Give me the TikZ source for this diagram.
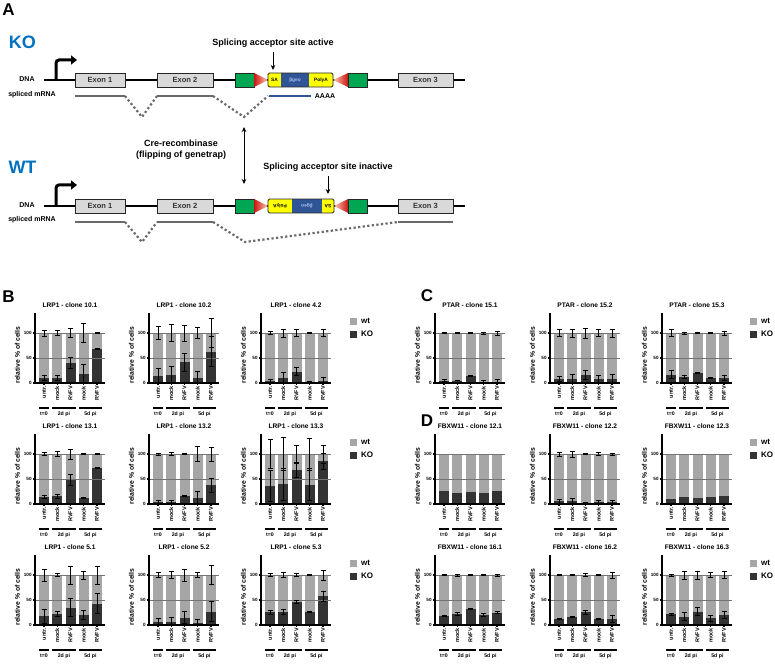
\documentclass[tikz,border=0pt]{standalone}
\usepackage{fontspec}
\setmainfont{Liberation Sans}
\usetikzlibrary{arrows.meta}

\definecolor{exongray}{RGB}{217,217,217}
\definecolor{frtgreen}{RGB}{0,166,81}
\definecolor{trapyellow}{RGB}{255,255,0}
\definecolor{geoblue}{RGB}{47,85,151}
\definecolor{geotext}{RGB}{170,190,230}
\definecolor{kolabel}{RGB}{0,112,192}
\definecolor{mrnagray}{RGB}{105,105,105}
\definecolor{wtgray}{RGB}{166,166,166}
\definecolor{kogray}{RGB}{51,51,51}
\definecolor{loxred}{RGB}{205,20,20}
\definecolor{loxpeach}{RGB}{252,205,175}

\newcommand{\fsz}[1]{\fontsize{#1}{#1}\selectfont}

\tikzset{
  panel/.style = {font=\fsz{17}\bfseries, inner sep=0pt},
  allele/.style = {font=\fsz{18}\bfseries, text=kolabel, inner sep=0pt},
  note/.style = {font=\fsz{9}\bfseries, inner sep=1pt},
  lbl/.style = {font=\fsz{7}\bfseries, inner sep=0pt},
  exon/.style = {draw=black!85, line width=0.9pt, fill=exongray, minimum height=14pt,
                 inner sep=0pt, font=\fsz{7.5}\bfseries, text=black!80},
  frt/.style = {draw=black!85, line width=0.9pt, fill=frtgreen, minimum height=14pt, inner sep=0pt},
  trap/.style = {minimum height=14pt, inner sep=0pt, font=\fsz{4.8}\bfseries},
  trapframe/.style = {draw=black!85, line width=0.9pt, rounded corners=1.5pt},
  dna/.style = {line width=2.6pt},
  promoter/.style = {line width=3pt, rounded corners=3pt, -{Triangle[length=6pt,width=9pt]}},
  mrna/.style = {line width=2pt, draw=mrnagray},
  splice/.style = {line width=2.2pt, draw=mrnagray, dash pattern=on 2.2pt off 2.4pt},
  pointer/.style = {line width=1pt, shorten <=4pt, -{Stealth[length=5pt,width=4.5pt]}},
  flip/.style = {line width=1pt, {Stealth[length=5pt,width=4.5pt]}-{Stealth[length=5pt,width=4.5pt]}},
  % bar charts
  ctitle/.style = {font=\fsz{6.6}\bfseries, inner sep=0pt},
  tick/.style = {font=\fsz{4.6}\bfseries, inner sep=0.8pt, anchor=east},
  xlab/.style = {font=\fsz{5.5}\bfseries, inner sep=0.5pt, rotate=90, anchor=east},
  ylab/.style = {font=\fsz{6.8}\bfseries, inner sep=0pt, rotate=90},
  grp/.style = {font=\fsz{5.2}\bfseries, inner sep=0pt},
  gridline/.style = {draw=black!55, line width=0.9pt},
  errbar/.style = {line width=0.8pt},
  axisline/.style = {line width=1.2pt},
  groupline/.style = {line width=1.3pt},
  keybox/.style = {minimum size=7pt, inner sep=0pt},
  keytext/.style = {font=\fsz{8}\bfseries, inner sep=0pt, anchor=west},
}

% #1 name, #2 axis x, #3 zero line y, #4 title, #5 KO/KOerr/wterr
\newcommand{\relchart}[5]{%
  \begin{scope}[shift={(#2,#3)}]
    \foreach \kov/\koe/\wte [count=\i] in {#5} {
      \pgfmathsetmacro{\cx}{9+(\i-1)*13.25}
      \fill[wtgray] (\cx-5,0) rectangle (\cx+5,-50);
      \fill[kogray] (\cx-5,0) rectangle (\cx+5,-\kov/2);
    }
    \draw[gridline] (0,-25) -- (70,-25) (0,-50) -- (70,-50);
    \foreach \kov/\koe/\wte [count=\i] in {#5} {
      \pgfmathsetmacro{\cx}{9+(\i-1)*13.25}
      \pgfmathsetmacro{\klo}{max(\kov-\koe,0)}
      \pgfmathsetmacro{\khi}{\kov+\koe}
      \pgfmathsetmacro{\wlo}{100-\wte}
      \pgfmathsetmacro{\whi}{100+\wte}
      \ifdim\koe pt>0pt
        \draw[errbar] (\cx,-\klo/2) -- (\cx,-\khi/2)
          (\cx-2.5,-\klo/2) -- (\cx+2.5,-\klo/2)
          (\cx-2.5,-\khi/2) -- (\cx+2.5,-\khi/2);
      \fi
      \ifdim\wte pt>0pt
        \draw[errbar] (\cx,-\wlo/2) -- (\cx,-\whi/2)
          (\cx-2.5,-\wlo/2) -- (\cx+2.5,-\wlo/2)
          (\cx-2.5,-\whi/2) -- (\cx+2.5,-\whi/2);
      \fi
    }
    \draw[axisline] (0,-70) -- (0,0) -- (70,0);
    \foreach \t in {0,50,100}
      \draw[axisline] (-2,-\t/2) node[tick] (#1-tick\t) {\t} -- (0,-\t/2);
    \foreach \lab [count=\i] in {untr.,mock,RVFV,mock,RVFV} {
      \pgfmathsetmacro{\cx}{9+(\i-1)*13.25}
      \draw[axisline] (\cx,0) -- (\cx,2) node[xlab] (#1-x\i) {\lab};
    }
    \draw[groupline] (4,25) -- (14,25) (17.25,25) -- (40.5,25) (43.75,25) -- (67,25);
    \node[grp] (#1-t0) at (9,31) {t=0};
    \node[grp] (#1-d2) at (28.9,31) {2d pi};
    \node[grp] (#1-d5) at (55.4,31) {5d pi};
    \node[ylab] (#1-y) at (-17.5,-28) {relative \% of cells};
    \node[ctitle] (#1-title) at (35,-78) {#4};
  \end{scope}}

% #1 name, #2 x, #3 zero line y
\newcommand{\chartkey}[3]{%
  \node[keybox, fill=wtgray] (#1-wt) at (#2+3.5,#3-62) {};
  \node[keytext] (#1-wtl) at (#2+11,#3-62) {wt};
  \node[keybox, fill=kogray] (#1-ko) at (#2+3.5,#3-49) {};
  \node[keytext] (#1-kol) at (#2+11,#3-49) {KO};}

\begin{document}
\begin{tikzpicture}[x=1pt, y=-1pt]
  \useasboundingbox (0,0) rectangle (775,668);

  % ------------------------------------------------------------------------
  % A: KO allele
  \node[panel] (pa) at (8.5,9.5) {A};
  \node[allele] (ko) at (22.5,42) {KO};
  \node[note] (act) at (273,43) {Splicing acceptor site active};
  \coordinate (actpt) at (273,70);
  \draw[pointer] (act) edge (actpt);

  \node[lbl] (kdna) at (27,79) {DNA};
  \node[lbl] (kmrna) at (32,95) {spliced mRNA};
  \draw[dna] (44,80) -- (465,80);
  \draw[promoter] (56,80) |- (77,60);

  \node[exon, minimum width=50pt] (kex1) at (100,80) {Exon 1};
  \node[exon, minimum width=56pt] (kex2) at (185,80) {Exon 2};
  \node[frt, minimum width=19pt] (kfrt1) at (244.5,80) {};
  \shade[left color=loxred, right color=loxpeach] (254,73) -- (268,80) -- (254,87) -- cycle;
  \node[trap, fill=trapyellow, minimum width=13pt] (ksa) at (274.5,80) {SA};
  \node[trap, fill=geoblue, text=geotext, minimum width=28pt] (kgeo) at (295,80) {βgeo};
  \node[trap, fill=trapyellow, minimum width=24pt] (kpa) at (321,80) {PolyA};
  \draw[trapframe] (268,73) rectangle (333,87);
  \shade[left color=loxpeach, right color=loxred] (333,80) -- (348,73) -- (348,87) -- cycle;
  \node[frt, minimum width=19pt] (kfrt2) at (357.5,80) {};
  \node[exon, minimum width=55pt] (kex3) at (425.5,80) {Exon 3};

  \draw[mrna] (75,96) -- (125,96) (157,96) -- (213,96);
  \draw[splice] (125,96) -- (142,117) -- (157,96) (213,96) -- (244,117) -- (268,96);
  \draw[mrna, draw=geoblue] (269,96) -- (311,96);
  \node[lbl] (kaaaa) at (325,96) {AAAA};

  % ------------------------------------------------------------------------
  % Cre flipping
  \coordinate (cretop) at (244,127);
  \coordinate (crebot) at (244,184);
  \draw[flip] (cretop) -- (crebot);
  \node[note, align=center, font=\fontsize{9}{11}\selectfont\bfseries] (cre) at (181,150)
    {Cre-recombinase\\(flipping of genetrap)};

  % ------------------------------------------------------------------------
  % A: WT allele
  \node[allele] (wt) at (22.5,167) {WT};
  \node[note] (inact) at (328,167) {Splicing acceptor site inactive};
  \coordinate (inactpt) at (328,194);
  \draw[pointer] (inact) edge (inactpt);

  \node[lbl] (wdna) at (27,205) {DNA};
  \node[lbl] (wmrna) at (32,220) {spliced mRNA};
  \draw[dna] (44,206) -- (465,206);
  \draw[promoter] (56,206) |- (77,185);

  \node[exon, minimum width=50pt] (wex1) at (100,206) {Exon 1};
  \node[exon, minimum width=56pt] (wex2) at (185,206) {Exon 2};
  \node[frt, minimum width=19pt] (wfrt1) at (244.5,206) {};
  \shade[left color=loxred, right color=loxpeach] (254,199) -- (268,206) -- (254,213) -- cycle;
  \node[trap, fill=trapyellow, minimum width=24pt, rotate=180] (wpa) at (280,206) {PolyA};
  \node[trap, fill=geoblue, text=geotext, minimum width=30pt, rotate=180] (wgeo) at (307,206) {βgeo};
  \node[trap, fill=trapyellow, minimum width=12pt, rotate=180] (wsa) at (328,206) {SA};
  \draw[trapframe] (268,199) rectangle (334,213);
  \shade[left color=loxpeach, right color=loxred] (334,206) -- (348,199) -- (348,213) -- cycle;
  \node[frt, minimum width=19pt] (wfrt2) at (357.5,206) {};
  \node[exon, minimum width=55pt] (wex3) at (425.5,206) {Exon 3};

  \draw[mrna] (75,222) -- (125,222) (157,222) -- (213,222) (398,222) -- (453,222);
  \draw[splice] (125,222) -- (142,242) -- (157,222) (213,222) -- (245,242) -- (398,222);

  % ------------------------------------------------------------------------
  % B: LRP1 clones
  \node[panel] (pb) at (8.5,297) {B};
  \relchart{b11}{35}{383}{LRP1 - clone 10.1}{10/5/6, 10/5/5, 41/11/9, 19/19/19, 69/1/1}
  \relchart{b12}{149}{383}{LRP1 - clone 10.2}{15/15/13, 17/16/17, 42/18/16, 11/13/11, 63/30/29}
  \relchart{b13}{261}{383}{LRP1 - clone 4.2}{5/3/2.5, 11/10/8, 23/8/7, 3/1/1, 5/6/7}
  \chartkey{bk1}{350}{383}
  \relchart{b21}{35}{504}{LRP1 - clone 13.1}{15/3/3, 16/4/5, 49/11/10, 12/1/1, 72/1/1}
  \relchart{b22}{149}{504}{LRP1 - clone 13.2}{4/3/2, 4/3/3, 17/1/1, 12/14/15, 38/14/14}
  \relchart{b23}{261}{504}{LRP1 - clone 13.3}{37/31/29, 40/32/33, 68/14/17, 39/32/32, 86/16/18}
  \chartkey{bk2}{350}{504}
  \relchart{b31}{35}{625}{LRP1 - clone 5.1}{18/14/12, 22/5/3, 35/18/18, 20/9/8, 43/20/18}
  \relchart{b32}{149}{625}{LRP1 - clone 5.2}{7/6/5, 7/8/7, 15/12/12, 5/7/5, 27/20/19}
  \relchart{b33}{261}{625}{LRP1 - clone 5.3}{26/4/3, 26/5/5, 46/3/3, 26/1/1, 58/10/10}
  \chartkey{bk3}{350}{625}

  % ------------------------------------------------------------------------
  % C: PTAR clones
  \node[panel] (pc) at (427,296) {C};
  \relchart{c1}{435}{383}{PTAR - clone 15.1}{5/1.5/1.5, 5/0.5/0.5, 14/1/1, 3/2/2, 3/4/4}
  \relchart{c2}{550}{383}{PTAR - clone 15.2}{9/5/7, 9/9/8, 17/9/10, 8/8/7, 9/8/8}
  \relchart{c3}{662}{383}{PTAR - clone 15.3}{17/8/7, 12/3/2, 21/1/0.5, 10/1/1, 11/5/4}
  \chartkey{ck}{750}{383}

  % ------------------------------------------------------------------------
  % D: FBXW11 clones
  \node[panel] (pd) at (427,421) {D};
  \relchart{d11}{435}{504}{FBXW11 - clone 12.1}{27/0/0, 22/0/0, 24/0/0, 22/0/0, 27/0/0}
  \relchart{d12}{550}{504}{FBXW11 - clone 12.2}{6/4/4, 6/6/6, 3/1/1, 5/3/3, 4/3/2}
  \relchart{d13}{662}{504}{FBXW11 - clone 12.3}{10/0/0, 14/0/0, 12/0/0, 14/0/0, 17/0/0}
  \chartkey{dk1}{750}{504}
  \relchart{d21}{435}{625}{FBXW11 - clone 16.1}{18/1/1, 22/3/2, 33/1/0.5, 20/3/1.5, 25/2/2}
  \relchart{d22}{550}{625}{FBXW11 - clone 16.2}{12/1/0.5, 16/1/0.3, 26/4/3, 12/1/1, 12/7/6}
  \relchart{d23}{662}{625}{FBXW11 - clone 16.3}{22/2/2, 17/8/8, 27/8/8, 14/6/5, 20/7/7}
  \chartkey{dk2}{750}{625}
\end{tikzpicture}
\end{document}
